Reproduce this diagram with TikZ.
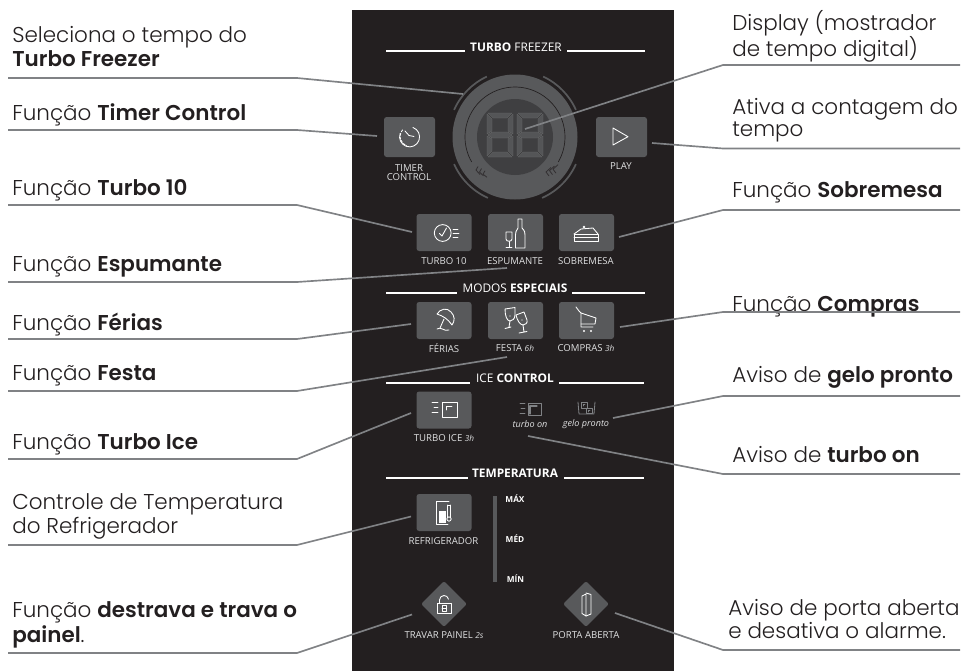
\documentclass[tikz,border=0pt]{standalone}
\usepackage{fontspec}
\usetikzlibrary{shapes.geometric,calc}
\setmainfont{Open Sans}
\newfontfamily\sidefont[UprightFont={* Light},BoldFont={* SemiBold}]{Poppins}
\definecolor{panelc}{HTML}{231F20}
\definecolor{btnc}{HTML}{58595B}
\definecolor{dispc}{HTML}{3F3F41}
\definecolor{connc}{HTML}{808285}
\definecolor{labc}{HTML}{E0E1E2}
\tikzset{
 conn/.style={draw=connc,line width=1.25pt,line join=round},
 side/.style={anchor=base west,inner sep=0pt,text=panelc,font=\sidefont\fontsize{16.1}{19}\selectfont},
 btnbase/.style={fill=btnc,rounded corners=2pt,inner sep=0pt,draw=none},
 btnW/.style={btnbase,minimum width=41.25pt,minimum height=27.75pt},
 btnT/.style={btnbase,minimum width=38.25pt,minimum height=30pt},
 dia/.style={diamond,fill=btnc,inner sep=0pt,minimum width=34.5pt,minimum height=34.5pt,rounded corners=1.5pt},
 lab/.style={text=labc,inner sep=0pt,font=\fontsize{7.2}{7.6}\selectfont,align=center},
 labi/.style={text=labc,inner sep=0pt,font=\fontsize{6.8}{7.6}\selectfont\itshape,align=center},
 head/.style={text=white,inner sep=0pt,font=\fontsize{8.9}{10}\selectfont},
 hline/.style={draw=white,line width=1.5pt},
 tick/.style={text=white,inner sep=0pt,font=\fontsize{6.2}{7}\bfseries\selectfont},
 ico/.style={draw=white,line width=.65pt,line cap=round,line join=round},
 icog/.style={draw=connc,line width=.6pt,line cap=round,line join=round},
 seg/.style={fill=btnc!85!dispc,draw=btnc!90!white,line width=.25pt},
}
\newcommand{\digitshape}{%
 \path[seg] (1,0)--(25,0)--(20,5)--(6,5)--cycle;
 \path[seg] (1,44)--(25,44)--(20,39)--(6,39)--cycle;
 \path[seg] (1,22)--(5,19)--(21,19)--(25,22)--(21,25)--(5,25)--cycle;
 \path[seg] (0,1)--(5,6)--(5,18)--(0,21)--cycle;
 \path[seg] (0,43)--(5,38)--(5,26)--(0,23)--cycle;
 \path[seg] (26,1)--(21,6)--(21,18)--(26,21)--cycle;
 \path[seg] (26,43)--(21,38)--(21,26)--(26,23)--cycle;
}
\begin{document}
\begin{tikzpicture}[x=0.75pt,y=-0.75pt]
\useasboundingbox (0,0) rectangle (965,671);
% panel
\fill[panelc] (352,10) rectangle (674,671);
% headings
\node[head] (hA) at (516,47) {\textbf{TURBO} FREEZER};
\draw[hline] (386,50.5) -- (465,50.5) (567,50.5) -- (645,50.5);
\node[head] (hB) at (515,288) {MODOS \textbf{ESPECIAIS}};
\draw[hline] (386,292.7) -- (457,292.7) (572,292.7) -- (645,292.7);
\node[head] (hC) at (515,378) {ICE \textbf{CONTROL}};
\draw[hline] (386,382.7) -- (470,382.7) (559,382.7) -- (644,382.7);
\node[head] (hD) at (515,473) {\textbf{TEMPERATURA}};
\draw[hline] (386,477.7) -- (468,477.7) (564,477.7) -- (644,477.7);
% dial
\coordinate (c) at (515,137);
\node[circle,fill=btnc,minimum size=93.75pt,inner sep=0pt] (disc) at (c) {};
\draw[panelc,line width=.5pt] ([shift={(-30:37.5pt)}]c) arc[start angle=-30,end angle=210,radius=37.5pt];
\node[circle,fill=dispc,minimum size=57pt,inner sep=0pt] (disp) at (c) {};
\foreach \a/\b in {115/156,24/65,204/246,-66/-24}{
 \draw[btnc,line width=1.3pt] ([shift={(\a:50pt)}]c) arc[start angle=\a,end angle=\b,radius=50pt];
}
\begin{scope}[shift={(487,113)}]\digitshape\end{scope}
\begin{scope}[shift={(517,113)}]\digitshape\end{scope}
\foreach \d in {0,3.5,7}{
  \draw[draw=panelc!70!btnc,line width=.6pt,line join=round] (478+\d,166.5+.6*\d) -- (476+\d,170+.6*\d) -- (480+\d,174.5+.4*\d);
  \draw[draw=panelc!70!btnc,line width=.6pt,line join=round] (551+\d,167.5-.4*\d) -- (546+\d,172-.4*\d) -- (549+\d,176-.4*\d);
}
% buttons
\node[btnT] (bTimer) at (409.5,137) {};
\node[btnT] (bPlay) at (621.5,137) {};
\node[btnW] (bT10) at (444,232.5) {};
\node[btnW] (bEsp) at (515.5,232.5) {};
\node[btnW] (bSob) at (586.5,232.5) {};
\node[btnW] (bFer) at (444,320.5) {};
\node[btnW] (bFes) at (515.5,320.5) {};
\node[btnW] (bCom) at (586.5,320.5) {};
\node[btnW] (bIce) at (444,410) {};
\node[btnW] (bRef) at (444,512.5) {};
\node[dia] (dLock) at (444,604) {};
\node[dia] (dDoor) at (586,604) {};
% labels
\node[lab] (lTimer) at (409,172.5) {TIMER\\[-1.2pt]CONTROL};
\node[lab] (lPlay) at (621,166.5) {PLAY};
\node[lab] (lT10) at (444,261) {TURBO 10};
\node[lab] (lEsp) at (515,261) {ESPUMANTE};
\node[lab] (lSob) at (586,261) {SOBREMESA};
\node[lab] (lFer) at (444,348.5) {FÉRIAS};
\node[lab] (lFes) at (515,348.5) {FESTA {\fontsize{6.2}{7}\selectfont\itshape 6h}};
\node[lab] (lCom) at (586,348.5) {COMPRAS {\fontsize{6.2}{7}\selectfont\itshape 3h}};
\node[lab] (lIce) at (444,438) {TURBO ICE {\fontsize{6.2}{7}\selectfont\itshape 3h}};
\node[labi] (lOn) at (530,424) {turbo on};
\node[labi] (lGelo) at (586,424) {gelo pronto};
\node[lab] (lRef) at (443.5,541.5) {REFRIGERADOR};
\node[lab] (lLock) at (444,635) {TRAVAR PAINEL {\fontsize{6.2}{7}\selectfont\itshape 2s}};
\node[lab] (lDoor) at (586,635) {PORTA ABERTA};
% scale
\fill[btnc] (493,496) rectangle (497,582);
\node[tick] (tMax) at (515,499) {MÁX};
\node[tick] (tMed) at (515,539) {MÉD};
\node[tick] (tMin) at (515.5,578.5) {MÍN};
% icons
% timer clock
\draw[ico] (413,127.5) arc[start angle=70,end angle=-200,radius=7.5pt];
\draw[ico,dash pattern=on 1.6pt off 1.2pt] (402.5,130) arc[start angle=140,end angle=250,radius=7.5pt];
\draw[ico] (405,131) -- (409,135.5) -- (414,136.5);
% play
\draw[ico] (613,128) -- (628,136.7) -- (613,145) -- cycle;
% turbo 10
\draw[ico] (442.7,233) circle[radius=6.3pt];
\draw[ico] (439.5,233.5) -- (442,236) -- (446.5,228);
\draw[ico] (453,229) -- (458,229) (453,233) -- (459,233) (453,237) -- (458,237);
% espumante
\draw[ico] (506,232) -- (512,232) -- (512,239) .. controls (512,242) and (506,242) .. (506,239) -- cycle;
\draw[ico] (509,241.5) -- (509,247) (506,247.5) -- (512,247.5);
\draw[ico] (518,219) -- (522,219) -- (522,228) .. controls (525,231) and (525,233) .. (525,235) -- (525,248) -- (515.5,248) -- (515.5,235) .. controls (515.5,232) and (516,231) .. (518,228) -- cycle;
% sobremesa
\draw[ico] (574,234) -- (598,234) -- (598,241) -- (574,241) -- cycle (574,237.5) -- (598,237.5);
\draw[ico] (574,234) -- (581,229) -- (593,228) -- (598,234);
\fill[white] (584,227) circle[radius=1.1pt];
% ferias
\draw[ico] (437,314) .. controls (440,309) and (447,307) .. (451,312) .. controls (455,316) and (455,321) .. (452,325) .. controls (448,319) and (443,316) .. (437,314) -- cycle;
\draw[ico] (444,319) -- (440,328);
\draw[ico] (437,329) .. controls (441,326) and (444,332) .. (449,330);
% festa
\draw[ico] (505,309) -- (515,307.5) -- (515,315) .. controls (515,319) and (512,321) .. (510,321) .. controls (507,321) and (505,316) .. (505,309) -- cycle;
\draw[ico] (510,321) -- (509,327) (505,328.5) -- (511,327);
\draw[ico] (516,315) -- (524,312) -- (527,320) .. controls (528,323) and (525,325) .. (523,325) .. controls (520,325) and (517,320) .. (516,315) -- cycle;
\draw[ico] (523,325) -- (524,332) (519,333) -- (527,331.5);
\fill[white] (510,316) circle[radius=.5pt] (522,320) circle[radius=.5pt];
% compras
\draw[ico] (576,307) -- (579,311) -- (581,313) -- (581,327) -- (593,327);
\draw[ico] (581,313) -- (596,318) -- (595,324) -- (581,324);
\fill[white] (584,331) circle[radius=.9pt] (591,331) circle[radius=.9pt];
% turbo ice
\draw[ico] (432,402.5) -- (438,402.5) (434,407.5) -- (438,407.5) (432,412.5) -- (438,412.5);
\draw[ico,line width=.75pt] (442,402.5) rectangle (457,417);
\draw[ico] (446,410) -- (446,406) -- (452,406);
% turbo on
\draw[icog] (520,403) -- (525,403) (521,408) -- (525,408) (520,413) -- (525,413);
\draw[icog,line width=.7pt] (528,403) rectangle (541,415);
\draw[icog,line width=.9pt] (530,414) -- (530,406) -- (537,406);
% gelo pronto
\draw[icog] (578,402) -- (579,414) -- (594,414) -- (595,402);
\draw[icog] (581,402) rectangle (587,408);
\draw[icog] (586,408) rectangle (592,413);
\draw[icog] (583,406) -- (583,404) -- (585,404) (588,412) -- (588,410) -- (590,410);
% refrigerador
\draw[ico] (449,501) -- (436,501) -- (436,524.5) -- (448,524.5);
\draw[ico] (447.5,505) -- (447.5,517) (450.5,505) -- (450.5,517) (447.5,505) -- (450.5,505);
\draw[ico] (449,519) circle[radius=1.6pt];
\fill[white] (439,511) rectangle (446,523);
% lock
\draw[ico] (437.5,603) rectangle (451.5,613.5);
\draw[ico] (439.5,603) -- (439.5,600) arc[start angle=180,end angle=10,radius=3.4pt];
\draw[ico,line width=.5pt] (442,605.5) rectangle (446.5,611);
\draw[ico,line width=.4pt] (442,608) -- (446.5,608);
% door
\draw[ico] (582,596) -- (586,594) -- (586,616) -- (582,613.5) -- cycle;
\draw[ico] (586,593) -- (591,594.5) -- (591,614) -- (586,616);
% side texts
\node[side] (tSel) at (12,42) {Seleciona o tempo do};
\node[side] (tSelb) at (12,66) {\textbf{Turbo Freezer}};
\node[side] (tTim) at (12,120) {Função \textbf{Timer Control}};
\node[side] (tT10) at (12,195) {Função \textbf{Turbo 10}};
\node[side] (tEsp) at (12,271) {Função \textbf{Espumante}};
\node[side] (tFer) at (12,330) {Função \textbf{Férias}};
\node[side] (tFes) at (12,380) {Função \textbf{Festa}};
\node[side] (tIce) at (12,449) {Função \textbf{Turbo Ice}};
\node[side] (tCon) at (12,509) {Controle de Temperatura};
\node[side] (tCon2) at (12,533) {do Refrigerador};
\node[side] (tLock) at (12,617) {Função \textbf{destrava e trava o}};
\node[side] (tLock2) at (12,642) {\textbf{painel}.};
\node[side] (tDis) at (732,31) {Display (mostrador};
\node[side] (tDis2) at (732,56) {de tempo digital)};
\node[side] (tAti) at (732,114) {Ativa a contagem do};
\node[side] (tAti2) at (732,136) {tempo};
\node[side] (tSob) at (732,197) {Função \textbf{Sobremesa}};
\node[side] (tCom) at (732,311) {Função \textbf{Compras}};
\node[side] (tGel) at (732,382) {Aviso de \textbf{gelo pronto}};
\node[side] (tOn) at (732,462) {Aviso de \textbf{turbo on}};
\node[side] (tPor) at (728,615) {Aviso de porta aberta};
\node[side] (tPor2) at (728,638) {e desativa o alarme.};
% connector ends
\foreach \n/\y in {a/78,b/130,c/205,d/282,e/339,f/391,g/459,h/545,i/653}{
 \coordinate (L\n0) at (8,\y);
 \coordinate (L\n1) at (297,\y);
}
\foreach \n/\y in {a/65,b/148.5,c/210,d/312,e/396,f/474,g/650}{
 \coordinate (R\n0) at (960,\y);
 \coordinate (R\n1) at (723,\y);
}
\coordinate (Ea) at (463,94);
\coordinate (Eb) at (377,136);
\coordinate (Ec) at (412,232);
\coordinate (Ed) at (507,268);
\coordinate (Ee) at (411,324);
\coordinate (Ef) at (507,357);
\coordinate (Eg) at (411,413);
\coordinate (Eh) at (411,516.5);
\coordinate (Ei) at (412,614.5);
\coordinate (Fa) at (525,129);
\coordinate (Fb) at (652,143);
\coordinate (Fc) at (619,237);
\coordinate (Fd) at (620,327);
\coordinate (Fe) at (613,418);
\coordinate (Ff) at (528,436);
\coordinate (Fg) at (615,613);
\foreach \n in {a,...,i}{\draw[conn] (L\n0) -- (L\n1) -- (E\n);}
\foreach \n in {a,...,g}{\draw[conn] (R\n0) -- (R\n1) -- (F\n);}
\end{tikzpicture}
\end{document}
